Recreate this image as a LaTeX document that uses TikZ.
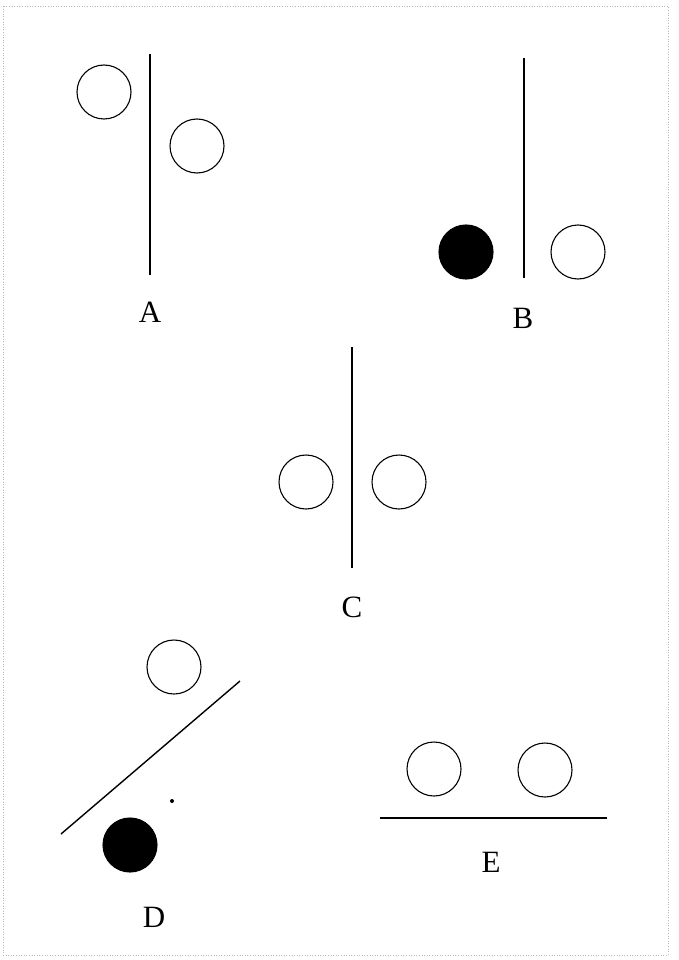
\documentclass[tikz,border=0pt]{standalone}
\usepackage{fontspec}
\setmainfont{Liberation Serif}
\usetikzlibrary{positioning}
\tikzset{
  bola/.style={draw,circle,minimum size=54pt,inner sep=0pt,line width=1.1pt},
  bolanegra/.style={bola,fill=black},
  pared/.style={line width=1.4pt},
  letra/.style={font=\fontsize{31}{31}\selectfont,inner sep=0pt},
  marco/.style={draw=gray!55,dotted,line width=0.6pt},
}
\begin{document}
\begin{tikzpicture}[x=1pt,y=-1pt]
  \useasboundingbox (0,0) rectangle (679,960);
  \draw[marco] (3,6) rectangle (668,955);
  % A
  \coordinate (pa1) at (150,54);
  \coordinate (pa2) at (150,275);
  \draw[pared] (pa1) -- (pa2);
  \node[bola] (a1) at (104,92) {};
  \node[bola] (a2) at (197,146) {};
  \node[letra] (la) at (150,312) {A};
  % B
  \coordinate (pb1) at (524,58);
  \coordinate (pb2) at (524,278);
  \draw[pared] (pb1) -- (pb2);
  \node[bolanegra] (b1) at (466,252) {};
  \node[bola] (b2) at (578,252) {};
  \node[letra] (lb) at (523,318) {B};
  % C
  \coordinate (pc1) at (352,347);
  \coordinate (pc2) at (352,568);
  \draw[pared] (pc1) -- (pc2);
  \node[bola] (c1) at (306,482) {};
  \node[bola] (c2) at (399,482) {};
  \node[letra] (lc) at (352,607) {C};
  % D
  \coordinate (pd1) at (61,834);
  \coordinate (pd2) at (240,681);
  \draw[pared] (pd1) -- (pd2);
  \node[bola] (d1) at (174,667) {};
  \node[bolanegra] (d2) at (130,845) {};
  \fill (172,801) circle (2pt);
  \node[letra] (ld) at (154,917) {D};
  % E
  \coordinate (pe1) at (380,818);
  \coordinate (pe2) at (607,818);
  \draw[pared] (pe1) -- (pe2);
  \node[bola] (e1) at (434,769) {};
  \node[bola] (e2) at (545,770) {};
  \node[letra] (le) at (491,862) {E};
\end{tikzpicture}
\end{document}
